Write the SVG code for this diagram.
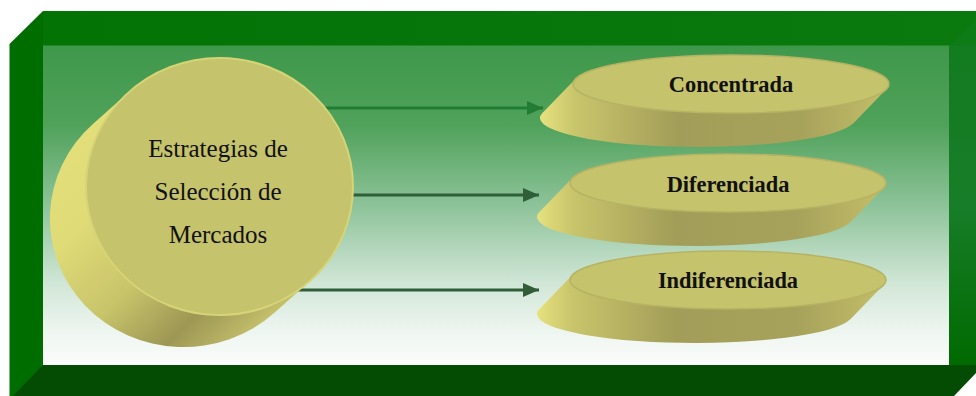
<svg xmlns="http://www.w3.org/2000/svg" width="976" height="396" viewBox="0 0 976 396">
  <defs>
    <linearGradient id="panelFill" x1="0" y1="0" x2="0" y2="1">
      <stop offset="0" stop-color="#3e984a"/>
      <stop offset="0.25" stop-color="#50a25b"/>
      <stop offset="0.5" stop-color="#8dc399"/>
      <stop offset="0.75" stop-color="#d2e7d8"/>
      <stop offset="0.9" stop-color="#eff6f1"/>
      <stop offset="1" stop-color="#fbfcfb"/>
    </linearGradient>
    <linearGradient id="rightBand" x1="0" y1="0" x2="0" y2="1">
      <stop offset="0" stop-color="#137b20"/>
      <stop offset="0.5" stop-color="#187d28"/>
      <stop offset="1" stop-color="#006a00"/>
    </linearGradient>
    <linearGradient id="topBand" x1="0" y1="0" x2="1" y2="0">
      <stop offset="0" stop-color="#047306"/>
      <stop offset="1" stop-color="#0a790e"/>
    </linearGradient>
    <linearGradient id="bigSide" gradientUnits="userSpaceOnUse" x1="93" y1="124" x2="274" y2="313">
      <stop offset="0" stop-color="#e2de7a"/>
      <stop offset="0.25" stop-color="#dfdb77"/>
      <stop offset="0.55" stop-color="#c8c46a"/>
      <stop offset="0.8" stop-color="#9d9754"/>
      <stop offset="0.92" stop-color="#b3ae62"/>
      <stop offset="1" stop-color="#c4c06a"/>
    </linearGradient>
    <linearGradient id="diskSide" x1="0" y1="0" x2="1" y2="0">
      <stop offset="0" stop-color="#e6e27e"/>
      <stop offset="0.1" stop-color="#c9c56c"/>
      <stop offset="0.4" stop-color="#a29d58"/>
      <stop offset="0.75" stop-color="#a7a25b"/>
      <stop offset="1" stop-color="#c2be68"/>
    </linearGradient>
    <marker id="head" viewBox="0 0 16 14" refX="16" refY="7" markerWidth="16" markerHeight="14" markerUnits="userSpaceOnUse" orient="auto">
      <path d="M0,0 L16,7 L0,14 Z" fill="context-stroke"/>
    </marker>
    <marker id="headA" viewBox="0 0 16 14" refX="16" refY="7" markerWidth="16" markerHeight="14" markerUnits="userSpaceOnUse" orient="auto">
      <path d="M0,0 L16,7 L0,14 Z" fill="#237c34"/>
    </marker>
    <marker id="headB" viewBox="0 0 16 14" refX="16" refY="7" markerWidth="16" markerHeight="14" markerUnits="userSpaceOnUse" orient="auto">
      <path d="M0,0 L16,7 L0,14 Z" fill="#2f5e39"/>
    </marker>
  </defs>
  <style>
    .disk-top { fill: #c5c36b; stroke: #b7b364; stroke-width: 1.5; }
    .disk-side { fill: url(#diskSide); }
    .label { font-family: "Liberation Serif", "Times New Roman", serif; font-weight: bold; font-size: 22.4px; fill: #111; text-anchor: middle; }
    .main-label { font-family: "Liberation Serif", "Times New Roman", serif; font-size: 25px; fill: #111; text-anchor: middle; }
    .conn { fill: none; stroke-width: 3; }
  </style>

  <!-- box frame -->
  <g id="frame">
    <polygon points="9.5,44 43,11 43,396 9.5,396" fill="#006d00"/>
    <rect x="43" y="11" width="933" height="35" fill="url(#topBand)"/>
    <rect x="949" y="45" width="27" height="321" fill="url(#rightBand)"/>
    <polygon points="949,46 976,20 976,46" fill="#0e7c16"/>
    <polygon points="43,365 976,365 976,373 954,396 13,396" fill="#044b04"/>
    <rect x="43" y="45.5" width="906" height="319.5" fill="url(#panelFill)"/>
  </g>

  <!-- connectors -->
  <g id="connectors">
    <line class="conn" x1="320" y1="108" x2="543" y2="108" stroke="#237c34" marker-end="url(#headA)"/>
    <line class="conn" x1="340" y1="195" x2="539" y2="195" stroke="#2f5e39" marker-end="url(#headB)"/>
    <line class="conn" x1="295" y1="290" x2="539" y2="290" stroke="#2f5e39" marker-end="url(#headB)"/>
  </g>

  <!-- central cylinder -->
  <g id="estrategias">
    <path d="M310.1,281 L274.1,313 A133.5,128.5 0 0 1 92.9,124 L128.9,92 Z" fill="url(#bigSide)"/>
    <ellipse cx="183.5" cy="218.5" rx="133.5" ry="128.5" fill="none"/>
    <ellipse cx="219.5" cy="186.5" rx="133.5" ry="128.5" fill="#c5c36b" stroke="#d6d477" stroke-width="2"/>
    <text class="main-label" x="218" y="157">Estrategias de</text>
    <text class="main-label" x="218" y="200">Selección de</text>
    <text class="main-label" x="218" y="243">Mercados</text>
  </g>

  <!-- flat disks -->
  <g id="concentrada">
    <path class="disk-side" d="M886.6,89.1 L853.6,123.1 A158,29 0 0 1 542.4,112.9 L575.4,78.9 Z"/>
    <ellipse class="disk-top" cx="731" cy="84" rx="158" ry="29"/>
    <text class="label" x="731" y="92">Concentrada</text>
  </g>
  <g id="diferenciada">
    <path class="disk-side" d="M883.6,188.1 L850.6,222.1 A158,29 0 0 1 539.4,211.9 L572.4,177.9 Z"/>
    <ellipse class="disk-top" cx="728" cy="183" rx="158" ry="29"/>
    <text class="label" x="728" y="191.5">Diferenciada</text>
  </g>
  <g id="indiferenciada">
    <path class="disk-side" d="M883.6,285.1 L850.6,319.1 A158,29 0 0 1 539.4,308.9 L572.4,274.9 Z"/>
    <ellipse class="disk-top" cx="728" cy="280" rx="158" ry="29"/>
    <text class="label" x="728" y="287.5">Indiferenciada</text>
  </g>
</svg>
